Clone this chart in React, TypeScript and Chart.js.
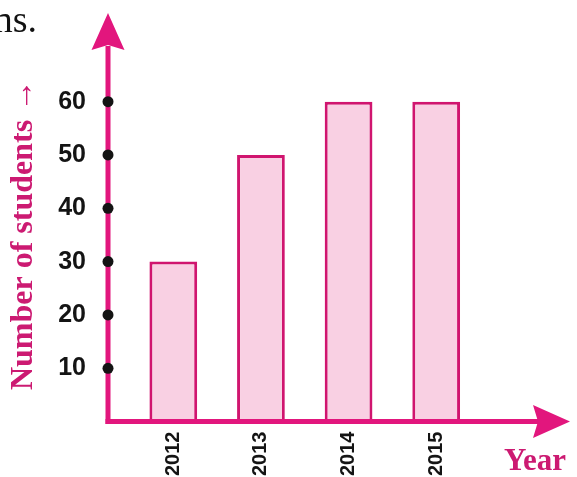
import React, { useEffect, useRef } from 'react';
import { Chart, registerables } from 'chart.js';

Chart.register(...registerables);

// ---- data ----
const categories: string[] = ['2012', '2013', '2014', '2015'];
const students: number[] = [30, 50, 60, 60];
const yTickValues: number[] = [10, 20, 30, 40, 50, 60];
const yMin = 0;
const yMax = 70;
const yTitle = 'Number of students →';
const xTitle = 'Year';
const topText = 'ns.';

// ---- styles ----
const axisColor = '#e2167d';
const titleColor = '#cc1a72';
const barFill = '#f9d0e3';
const barBorder = '#d0156f';
const inkColor = '#141414';

const decorPlugin = {
  id: 'decor',
  afterDatasetsDraw(chart: any) {
    const { ctx, chartArea, scales } = chart;
    const y = scales.y;
    const ax = chartArea.left - 21.5;
    const ay = y.getPixelForValue(yMin);
    ctx.save();
    // axis lines
    ctx.strokeStyle = axisColor;
    ctx.fillStyle = axisColor;
    ctx.lineWidth = 5;
    ctx.beginPath();
    ctx.moveTo(ax, ay + 2.5);
    ctx.lineTo(ax, 46);
    ctx.stroke();
    ctx.beginPath();
    ctx.moveTo(ax - 2.5, ay);
    ctx.lineTo(540, ay);
    ctx.stroke();
    // y arrow head
    ctx.beginPath();
    ctx.moveTo(ax, 13);
    ctx.lineTo(ax + 16.5, 50);
    ctx.lineTo(ax, 45);
    ctx.lineTo(ax - 16.5, 50);
    ctx.closePath();
    ctx.fill();
    // x arrow head
    ctx.beginPath();
    ctx.moveTo(570, ay);
    ctx.lineTo(533, ay - 16.5);
    ctx.lineTo(538, ay);
    ctx.lineTo(533, ay + 16.5);
    ctx.closePath();
    ctx.fill();
    // tick dots
    ctx.fillStyle = inkColor;
    for (const v of yTickValues) {
      ctx.beginPath();
      ctx.arc(ax, y.getPixelForValue(v), 5.5, 0, Math.PI * 2);
      ctx.fill();
    }
    // x title
    ctx.fillStyle = titleColor;
    ctx.font = 'bold 31px "Liberation Serif", "Times New Roman", serif';
    ctx.textAlign = 'left';
    ctx.textBaseline = 'alphabetic';
    ctx.fillText(xTitle, 504, 470);
    // top text fragment
    ctx.fillStyle = '#111111';
    ctx.font = '38px "Liberation Serif", "Times New Roman", serif';
    ctx.textAlign = 'right';
    ctx.fillText(topText, 37, 32);
    ctx.restore();
  },
};

export default function App() {
  const canvasRef = useRef<HTMLCanvasElement | null>(null);

  useEffect(() => {
    const canvas = canvasRef.current;
    if (!canvas) return;
    const chart = new Chart(canvas, {
      type: 'bar',
      data: {
        labels: categories,
        datasets: [
          {
            data: students,
            backgroundColor: barFill,
            borderColor: barBorder,
            borderWidth: 3,
            barPercentage: 0.545,
            categoryPercentage: 1,
          },
        ],
      },
      options: {
        responsive: false,
        animation: false,
        layout: { padding: { top: 48.3, right: 97, bottom: 0, left: 0 } },
        plugins: {
          legend: { display: false },
          tooltip: { enabled: false },
          title: { display: false },
        },
        scales: {
          x: {
            grid: { display: false, drawTicks: false, tickLength: 0 },
            border: { display: false },
            ticks: {
              minRotation: 90,
              maxRotation: 90,
              padding: 10,
              color: inkColor,
              font: { family: '"Liberation Sans", Arial, sans-serif', size: 20, weight: 'bold' },
            },
            afterFit: (s: any) => {
              s.height = 55.4;
              s.paddingLeft = 0;
              s.paddingRight = 0;
            },
          },
          y: {
            min: yMin,
            max: yMax,
            afterBuildTicks: (s: any) => {
              s.ticks = yTickValues.map((v) => ({ value: v }));
            },
            grid: { display: false, drawTicks: false, tickLength: 0 },
            border: { display: false },
            ticks: {
              padding: 43.5,
              color: inkColor,
              font: { family: '"Liberation Sans", Arial, sans-serif', size: 25, weight: 'bold' },
            },
            title: {
              display: true,
              text: yTitle,
              color: titleColor,
              font: { family: '"Liberation Serif", "Times New Roman", serif', size: 32, weight: 'bold' },
              padding: { top: 5, bottom: 0 },
            },
            afterFit: (s: any) => {
              s.width = 129.5;
              s.paddingTop = 0;
              s.paddingBottom = 0;
            },
          },
        },
      },
      plugins: [decorPlugin],
    });
    return () => chart.destroy();
  }, []);

  return (
    <div style={{ position: 'absolute', left: 0, top: 0, width: 577, height: 477, background: '#ffffff' }}>
      <canvas ref={canvasRef} width={577} height={477} style={{ display: 'block' }} />
    </div>
  );
}
